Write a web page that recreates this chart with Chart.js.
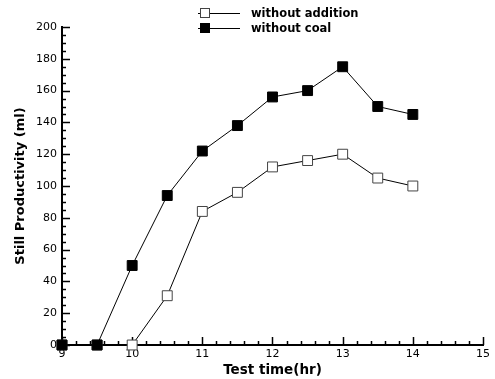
<!DOCTYPE html>
<html>
<head>
<meta charset="utf-8">
<script src="https://cdn.jsdelivr.net/npm/chart.js@4"></script>
<style>
  html, body { margin: 0; padding: 0; background: #fff; }
</style>
</head>
<body>
<canvas id="chart" width="495" height="379"></canvas>
<script>
// data
const hours = [9, 9.5, 10, 10.5, 11, 11.5, 12, 12.5, 13, 13.5, 14];
const withoutAddition = [0, 0, 0, 31, 84, 96, 112, 116, 120, 105, 100];
const withoutCoal = [0, 0, 50, 94, 122, 138, 156, 160, 175, 150, 145];
const xTicks = [9, 10, 11, 12, 13, 14, 15];
const yTicks = [0, 20, 40, 60, 80, 100, 120, 140, 160, 180, 200];

const FONT = '"DejaVu Sans", Verdana, sans-serif';
const toPoints = (ys) => ys.map((y, i) => ({ x: hours[i], y: y }));

// inward ticks (major + minor) on both axes
const innerTicks = {
  id: 'innerTicks',
  beforeDatasetsDraw(chart) {
    const ctx = chart.ctx;
    const xs = chart.scales.x, ys = chart.scales.y;
    const area = chart.chartArea;
    ctx.save();
    ctx.strokeStyle = '#000';
    ctx.lineWidth = 1.5;
    for (let v = 9; v <= 15.001; v += 0.2) {
      const px = Math.round(xs.getPixelForValue(v)) + 0.5;
      const major = Math.abs(v - Math.round(v)) < 0.01;
      ctx.beginPath();
      ctx.moveTo(px, area.bottom);
      ctx.lineTo(px, area.bottom - (major ? 8 : 4));
      ctx.stroke();
    }
    for (let v = 0; v <= 200; v += 5) {
      const py = Math.round(ys.getPixelForValue(v)) + 0.5;
      const major = v % 20 === 0;
      ctx.beginPath();
      ctx.moveTo(area.left, py);
      ctx.lineTo(area.left + (major ? 8 : 4), py);
      ctx.stroke();
    }
    ctx.restore();
  }
};

// two-row legend at the top
const topLegend = {
  id: 'topLegend',
  afterDraw(chart) {
    const ctx = chart.ctx;
    ctx.save();
    chart.data.datasets.forEach((ds, i) => {
      const y = 13 + i * 15;
      ctx.strokeStyle = '#000';
      ctx.lineWidth = 1;
      ctx.beginPath();
      ctx.moveTo(198, y + 0.5);
      ctx.lineTo(240, y + 0.5);
      ctx.stroke();
      ctx.fillStyle = ds.pointBackgroundColor;
      ctx.strokeStyle = ds.pointBorderColor;
      ctx.fillRect(200, y - 5, 10, 10);
      ctx.strokeRect(200.5, y - 4.5, 9, 9);
      ctx.fillStyle = '#000';
      ctx.font = 'bold 11.5px ' + FONT;
      ctx.textBaseline = 'middle';
      ctx.fillText(ds.label, 251, y + 1);
    });
    ctx.restore();
  }
};

new Chart(document.getElementById('chart'), {
  type: 'line',
  data: {
    datasets: [
      {
        label: 'without addition',
        data: toPoints(withoutAddition),
        order: 1,
        borderColor: '#000',
        borderWidth: 1,
        pointStyle: 'rect',
        pointRadius: 7,
        pointBackgroundColor: '#fff',
        pointBorderColor: '#444',
        pointBorderWidth: 1,
        clip: false,
      },
      {
        label: 'without coal',
        data: toPoints(withoutCoal),
        order: 0,
        borderColor: '#000',
        borderWidth: 1,
        pointStyle: 'rect',
        pointRadius: 7,
        pointBackgroundColor: '#000',
        pointBorderColor: '#000',
        pointBorderWidth: 1,
        clip: false,
      },
    ],
  },
  options: {
    responsive: false,
    animation: false,
    layout: { padding: { top: 27, right: 12, left: 0, bottom: 0 } },
    plugins: { legend: { display: false }, tooltip: { enabled: false } },
    scales: {
      x: {
        type: 'linear',
        min: 9,
        max: 15,
        afterBuildTicks: (s) => { s.ticks = xTicks.map((v) => ({ value: v })); },
        afterFit: (s) => { s.height = 34; },
        grid: { drawOnChartArea: false, drawTicks: false },
        border: { color: '#000', width: 2 },
        ticks: {
          color: '#000',
          padding: 3,
          maxRotation: 0,
          font: { family: FONT, size: 11 },
        },
        title: {
          display: true,
          text: 'Test time(hr)',
          color: '#000',
          padding: { top: -9, bottom: 0 },
          font: { family: FONT, size: 13.5, weight: 'bold' },
        },
      },
      y: {
        min: 0,
        max: 200,
        afterBuildTicks: (s) => { s.ticks = yTicks.map((v) => ({ value: v })); },
        afterFit: (s) => { s.width = 62; },
        grid: { drawOnChartArea: false, drawTicks: false },
        border: { color: '#000', width: 2 },
        ticks: {
          color: '#000',
          padding: 5,
          font: { family: FONT, size: 11 },
        },
        title: {
          display: true,
          text: 'Still Productivity (ml)',
          color: '#000',
          padding: { top: 13, bottom: 0 },
          font: { family: FONT, size: 13, weight: 'bold' },
        },
      },
    },
  },
  plugins: [innerTicks, topLegend],
});
</script>
</body>
</html>
